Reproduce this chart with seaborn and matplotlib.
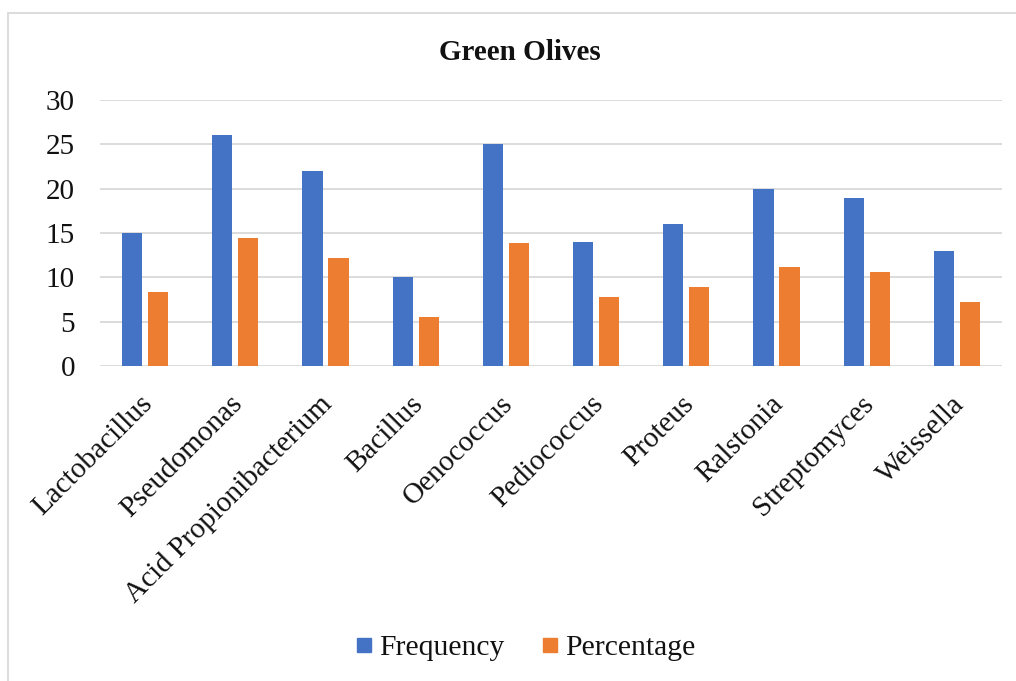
import matplotlib
matplotlib.use("Agg")
import matplotlib.pyplot as plt
import matplotlib.transforms as mtransforms
import seaborn as sns
import pandas as pd
from matplotlib.lines import Line2D

categories = ["Lactobacillus", "Pseudomonas", "Acid Propionibacterium", "Bacillus",
              "Oenococcus", "Pediococcus", "Proteus", "Ralstonia", "Streptomyces", "Weissella"]
frequency = [15, 26, 22, 10, 25, 14, 16, 20, 19, 13]
percentage = [8.33, 14.44, 12.22, 5.56, 13.89, 7.78, 8.89, 11.11, 10.56, 7.22]
series_names = ["Frequency", "Percentage"]
colors = ["#4472C4", "#ED7D31"]
yticks = [0, 5, 10, 15, 20, 25, 30]

df = pd.DataFrame({
    "Category": categories * 2,
    "Value": frequency + percentage,
    "Series": [series_names[0]] * len(categories) + [series_names[1]] * len(categories),
})

sns.set_theme(style="white")
plt.rcParams["font.family"] = ["Liberation Serif", "DejaVu Serif"]

fig = plt.figure(figsize=(10.16, 6.81), dpi=100)
ax = fig.add_axes([100 / 1016, 1 - 366 / 681, 902 / 1016, 266 / 681])

sns.barplot(data=df, x="Category", y="Value", hue="Series", palette=colors,
            width=0.578, gap=0.23, saturation=1, ax=ax, legend=False,
            order=categories, hue_order=series_names, linewidth=0, edgecolor="none")

ax.set_ylim(0, 30)
ax.set_xlim(-0.5, len(categories) - 0.5)
ax.set_yticks(yticks)
ax.set_yticklabels([str(v) for v in yticks])
ax.yaxis.grid(True, color="#D9D9D9", linewidth=1.3)
ax.set_axisbelow(True)
for s in ax.spines.values():
    s.set_visible(False)
ax.tick_params(axis="both", length=0, labelsize=21, colors="#111111")
ax.tick_params(axis="y", pad=18)
ax.tick_params(axis="x", pad=18)
offset = mtransforms.ScaledTranslation(-6 / 100, 0, fig.dpi_scale_trans)
for lbl in ax.get_xticklabels():
    lbl.set_rotation(45)
    lbl.set_ha("right")
    lbl.set_rotation_mode("anchor")
    lbl.set_transform(lbl.get_transform() + offset)
ax.set_xlabel("")
ax.set_ylabel("")

fig.text(520 / 1016, 1 - 53 / 681, "Green Olives", ha="center", va="center",
         fontsize=21, fontweight="bold", color="#111111")

handles = [Line2D([0], [0], marker="s", linestyle="none", markersize=10.5,
                  markerfacecolor=c, markeredgecolor=c) for c in colors]
fig.legend(handles, series_names, loc="center", bbox_to_anchor=(524 / 1016, 1 - 648 / 681),
           ncol=2, frameon=False, fontsize=21.3, handletextpad=0.1, columnspacing=1.15,
           handlelength=0.8, labelcolor="#111111")

# chart frame lines (top and left)
fig.add_artist(Line2D([8 / 1016, 8 / 1016], [0, 1 - 13 / 681], color="#D9D9D9", linewidth=1.3,
                      transform=fig.transFigure))
fig.add_artist(Line2D([8 / 1016, 1], [1 - 13 / 681, 1 - 13 / 681], color="#D9D9D9", linewidth=1.3,
                      transform=fig.transFigure))

fig.savefig("out.png", dpi=100)
